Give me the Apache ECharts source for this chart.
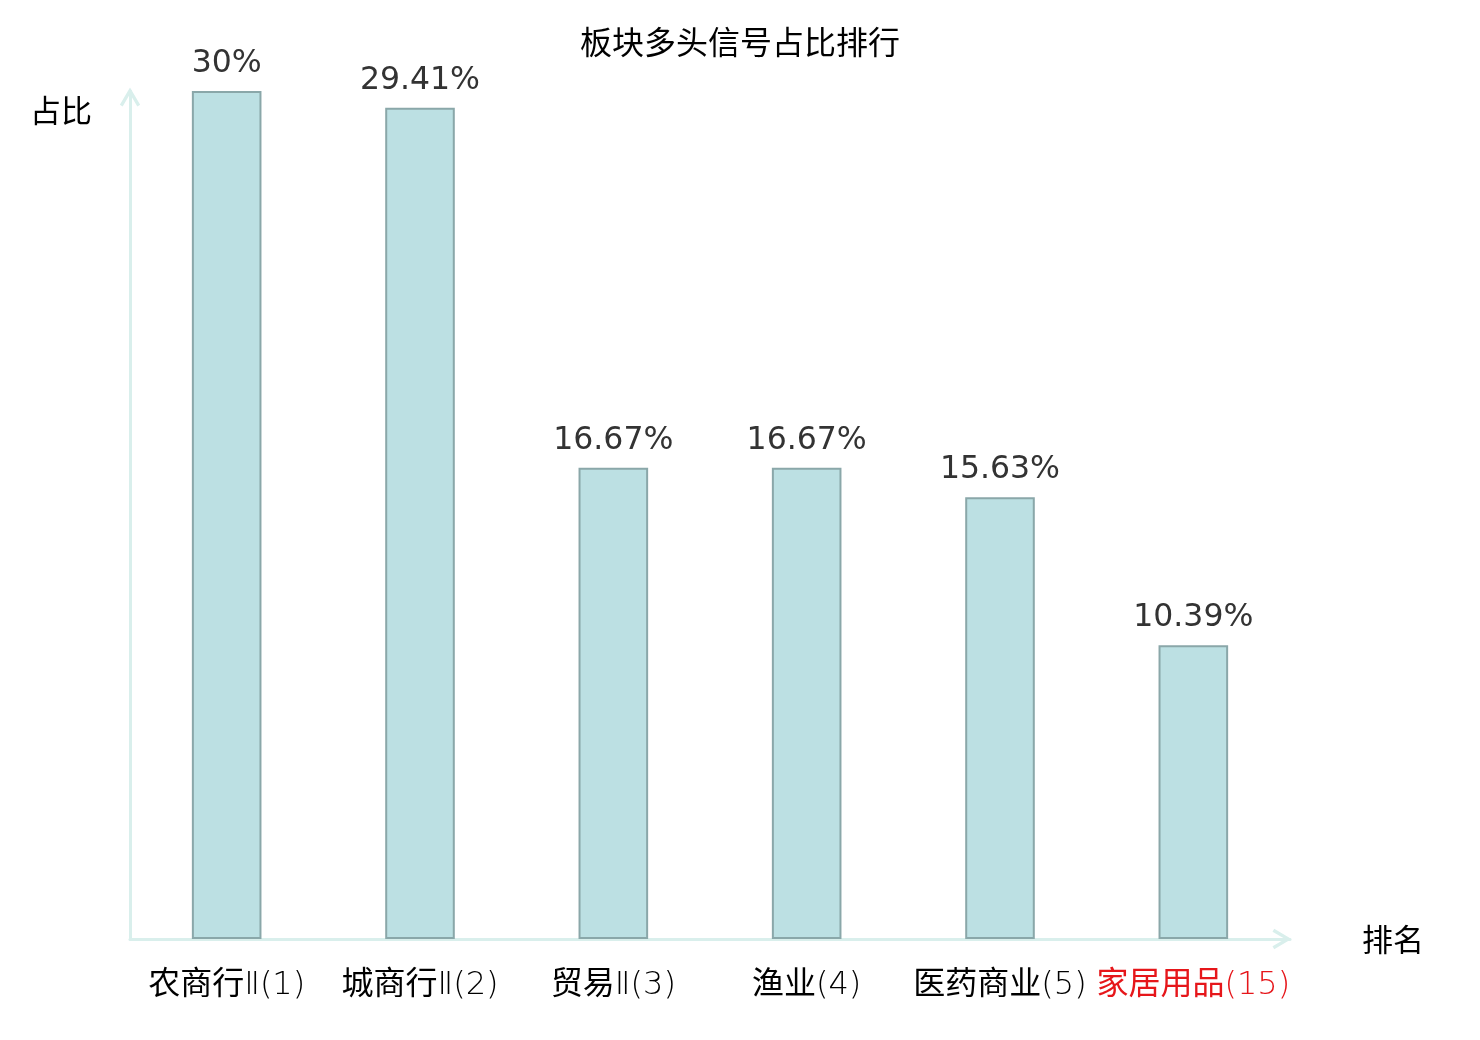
<!DOCTYPE html>
<html>
<head>
<meta charset="utf-8">
<script src="https://cdn.jsdelivr.net/npm/echarts@6/dist/echarts.min.js"></script>
<style>html,body{margin:0;padding:0;background:#fff}#c{width:1480px;height:1040px}</style>
</head>
<body>
<div id="c"></div>
<script>
const titleText = '板块多头信号占比排行';
const categories = ['农商行Ⅱ(1)', '城商行Ⅱ(2)', '贸易Ⅱ(3)', '渔业(4)', '医药商业(5)', '家居用品(15)'];
const values = [30, 29.41, 16.67, 16.67, 15.63, 10.39];
const highlightIndex = [5];
const xName = '排名';
const yName = '占比';

const chevron = 'path://M10,0 L20,17 L17.2,18.7 L10,6.3 L2.8,18.7 L0,17 Z';
const axisColor = '#d9efec';
const labelFont = '"DejaVu Sans ExtraLight", "DejaVu Sans Light", "Noto Sans CJK SC", sans-serif';
const chart = echarts.init(document.getElementById('c'));
chart.setOption({
  animation: false,
  title: {
    text: titleText, left: 'center', top: 21,
    textStyle: {fontSize: 32, fontWeight: 'normal', color: '#000', fontFamily: 'Noto Sans CJK SC'}
  },
  grid: {left: 130, right: 190, top: 91, bottom: 101},
  xAxis: {
    type: 'category', data: categories,
    name: xName, nameLocation: 'end', nameGap: 72,
    nameTextStyle: {fontSize: 31, color: '#000', fontFamily: 'Noto Sans CJK SC'},
    axisLine: {show: true, symbol: ['none', chevron], symbolSize: [21, 19], symbolOffset: [0, -8], lineStyle: {color: axisColor, width: 3}},
    axisTick: {show: false},
    axisLabel: {
      fontSize: 32, margin: 31, fontFamily: labelFont, interval: 0,
      color: function (v, i) { return highlightIndex.indexOf(i) >= 0 ? '#e6161a' : '#000'; }
    }
  },
  yAxis: {
    type: 'value', min: 0, max: 30,
    name: yName, nameLocation: 'end', nameGap: -4,
    nameTextStyle: {fontSize: 31, color: '#000', fontFamily: 'Noto Sans CJK SC', align: 'right', verticalAlign: 'top', padding: [0, 38, 0, 0]},
    axisLine: {show: true, symbol: ['none', chevron], symbolSize: [21, 19], symbolOffset: [0, -6], lineStyle: {color: axisColor, width: 3}},
    axisTick: {show: false},
    axisLabel: {show: false},
    splitLine: {show: false}
  },
  series: [{
    type: 'bar', data: values, barWidth: '36%',
    itemStyle: {color: '#bce0e3', borderColor: '#8aa7a9', borderWidth: 2},
    label: {
      show: true, position: 'top', distance: 11,
      fontSize: 31.5, color: '#333', fontFamily: 'DejaVu Sans',
      formatter: function (p) { return p.value + '%'; }
    }
  }]
});
</script>
</body>
</html>
